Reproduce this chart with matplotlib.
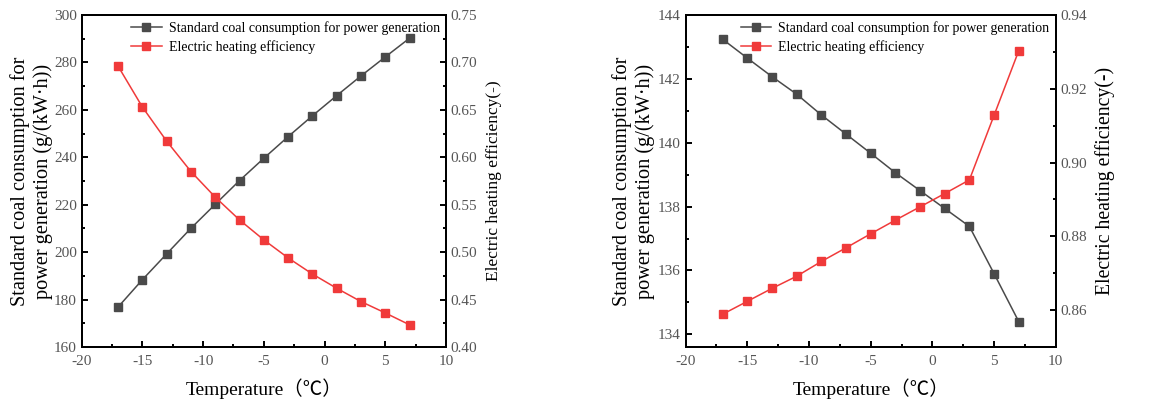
import matplotlib
matplotlib.use("Agg")
import matplotlib.pyplot as plt
from matplotlib.ticker import AutoMinorLocator, FormatStrFormatter

plt.rcParams['font.family'] = ['Liberation Serif', 'Noto Sans CJK SC', 'DejaVu Sans']
plt.rcParams['axes.unicode_minus'] = False

temperature = [-17, -15, -13, -11, -9, -7, -5, -3, -1, 1, 3, 5, 7]

coal_a = [176.9, 188.4, 199.3, 210.1, 220.2, 230.2, 239.6, 248.7, 257.5, 266.0, 274.3, 282.3, 290.2]
eff_a = [0.696, 0.653, 0.617, 0.585, 0.558, 0.534, 0.513, 0.494, 0.477, 0.462, 0.448, 0.436, 0.4235]

coal_b = [143.24, 142.65, 142.07, 141.52, 140.87, 140.27, 139.67, 139.06, 138.50, 137.94, 137.38, 135.90, 134.40]
eff_b = [0.8589, 0.8624, 0.8659, 0.8692, 0.8732, 0.8769, 0.8807, 0.8844, 0.8880, 0.8916, 0.8953, 0.9128, 0.9303]

series_names = ["Standard coal consumption for power generation", "Electric heating efficiency"]
xlabel = "Temperature\uff08\u2103\uff09"
ylabel_left = "Standard coal consumption for\npower generation (g/(kW\u00b7h))"
ylabel_right = "Electric heating efficiency(-)"

BLACK = "#4a4a4a"
RED = "#f03a3a"
TICKC = "#555555"

fig = plt.figure(figsize=(11.72, 4.05), dpi=100)

def style_axis(ax):
    for s in ax.spines.values():
        s.set_linewidth(1.4)
        s.set_color("black")
    ax.tick_params(which='both', direction='in', colors='black', labelcolor=TICKC,
                   labelsize=11, width=1.4)
    ax.tick_params(which='major', length=4.5)
    ax.tick_params(which='minor', length=2.5)

def make_panel(rect, coal, eff, ylim1, yticks1, ylim2, yticks2, rlabel_size, lpad):
    ax = fig.add_axes(rect)
    ax2 = ax.twinx()
    l1, = ax.plot(temperature, coal, color=BLACK, marker='s', markersize=6, linewidth=1.1,
                  label=series_names[0])
    l2, = ax2.plot(temperature, eff, color=RED, marker='s', markersize=6, linewidth=1.1,
                   label=series_names[1])
    ax.set_xlim(-20, 10)
    ax.set_xticks([-20, -15, -10, -5, 0, 5, 10])
    ax.xaxis.set_minor_locator(AutoMinorLocator(2))
    ax.set_ylim(*ylim1)
    ax.set_yticks(yticks1)
    ax.yaxis.set_minor_locator(AutoMinorLocator(2))
    ax2.set_ylim(*ylim2)
    ax2.set_yticks(yticks2)
    ax2.yaxis.set_minor_locator(AutoMinorLocator(2))
    ax2.yaxis.set_major_formatter(FormatStrFormatter('%.2f'))
    style_axis(ax)
    style_axis(ax2)
    ax.tick_params(axis='x', which='both', top=False, pad=6)
    ax.set_xlabel(xlabel, fontsize=14, labelpad=7)
    ax.set_ylabel(ylabel_left, fontsize=14.6, labelpad=lpad)
    ax2.set_ylabel(ylabel_right, fontsize=rlabel_size, labelpad=6)
    ax.legend([l1, l2], series_names, loc='upper right', frameon=False, fontsize=10,
              borderaxespad=0.15, borderpad=0.3, handlelength=2.2, handletextpad=0.5,
              labelspacing=0.4)
    return ax, ax2

make_panel([0.0697, 0.143, 0.3108, 0.82], coal_a, eff_a,
           (160, 300), [160, 180, 200, 220, 240, 260, 280, 300],
           (0.40, 0.75), [0.40, 0.45, 0.50, 0.55, 0.60, 0.65, 0.70, 0.75], 12.5, 1)
make_panel([0.585, 0.143, 0.3158, 0.82], coal_b, eff_b,
           (133.6, 144), [134, 136, 138, 140, 142, 144],
           (0.85, 0.94), [0.86, 0.88, 0.90, 0.92, 0.94], 14.2, 2)

fig.savefig("out.png", dpi=100)
